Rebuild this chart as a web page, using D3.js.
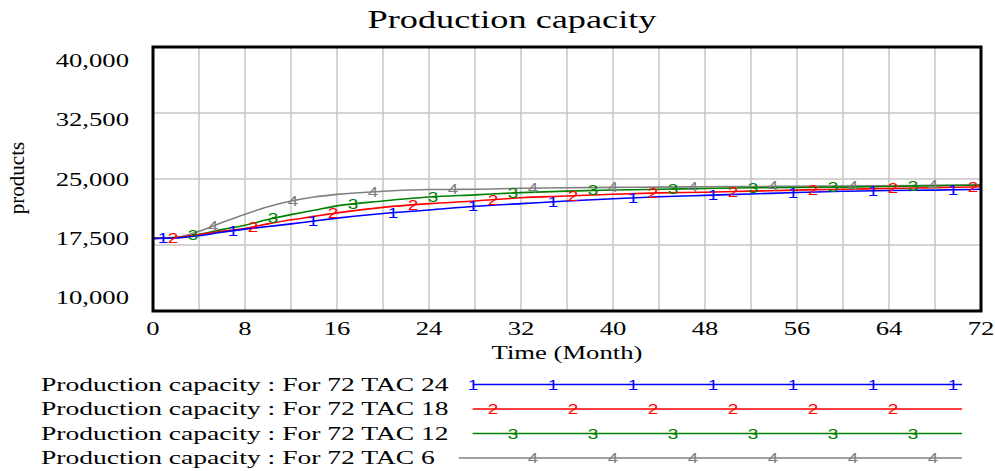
<!DOCTYPE html>
<html>
<head>
<meta charset="utf-8">
<script src="https://cdn.jsdelivr.net/npm/d3@7/dist/d3.min.js"></script>
<style>
  body { margin: 0; background: #fff; }
  svg text { font-family: "Liberation Serif", "Times New Roman", serif; fill: #000; }
  svg text.mark { font-family: "Liberation Sans", Arial, sans-serif; }
</style>
</head>
<body>
<div id="chart"></div>
<script>
//Datos
const months = [0, 2, 4, 6, 8, 10, 12, 14, 16, 20, 24, 28, 32, 36, 40, 44, 48, 52, 56, 60, 64, 68, 72];
const tac24 = [18250, 18300, 18550, 18950, 19300, 19600, 19900, 20230, 20550, 21080, 21480, 21900, 22200, 22500, 22750, 22980, 23140, 23300, 23460, 23600, 23700, 23740, 23830];
const tac18 = [18250, 18320, 18700, 19050, 19380, 19900, 20360, 20750, 21150, 21780, 22200, 22500, 22870, 23060, 23270, 23420, 23500, 23620, 23740, 23840, 23920, 24020, 24120];
const tac12 = [18250, 18350, 18700, 19250, 19750, 20400, 20950, 21450, 21950, 22500, 22950, 23200, 23450, 23620, 23750, 23830, 23920, 24000, 24040, 24080, 24150, 24230, 24320];
const tac6  = [18250, 18380, 19050, 20050, 21000, 21850, 22500, 22950, 23250, 23600, 23800, 23830, 23950, 24000, 24050, 24080, 24120, 24150, 24170, 24200, 24230, 24270, 24320];

const seriesNames = ['Production capacity : For 72 TAC 24', 'Production capacity : For 72 TAC 18', 'Production capacity : For 72 TAC 12', 'Production capacity : For 72 TAC 6'];
const seriesMarks = ['1', '2', '3', '4'];
const xTicks = [0, 8, 16, 24, 32, 40, 48, 56, 64, 72];
const yTicks = [10000, 17500, 25000, 32500, 40000];

//Colores fijos
const COLORS = ['#0000ff', '#ff0000', '#008000', '#808080'];
const GRID = '#c4c4c4';
const SX = 1.48; //el texto sale estirado en horizontal

const W = 995, H = 471;
const pLeft = 153, pRight = 981, pTop = 47, pBottom = 311;

const svg = d3.select('#chart').append('svg')
    .attr('width', W).attr('height', H);

//Escalas
const x = d3.scaleLinear().domain([0, 72]).range([pLeft, pRight]);
const y = d3.scaleLinear().domain([10000, 40000]).range([pBottom, pTop]);
const yLabel = d3.scaleLinear().domain([10000, 40000]).range([304, 67]);

function stretch(sel, sx) {
    sel.each(function() {
        const w = this.getComputedTextLength();
        d3.select(this).attr('textLength', w * sx).attr('lengthAdjust', 'spacingAndGlyphs');
    });
}

//Rejilla
svg.append('g').selectAll('line')
    .data(d3.range(4, 72, 4))
    .enter().append('line')
    .attr('x1', d => x(d)).attr('x2', d => x(d))
    .attr('y1', pTop).attr('y2', pBottom)
    .attr('stroke', GRID).attr('stroke-width', 1.5);

svg.append('g').selectAll('line')
    .data(yTicks.slice(1, -1))
    .enter().append('line')
    .attr('x1', pLeft).attr('x2', pRight)
    .attr('y1', d => y(d)).attr('y2', d => y(d))
    .attr('stroke', GRID).attr('stroke-width', 1.5);

//Líneas
const data = [tac24, tac18, tac12, tac6];
const line = d3.line()
    .x((d, i) => x(months[i]))
    .y(d => y(d))
    .curve(d3.curveMonotoneX);

function valueAt(vals, m) {
    const i = Math.min(d3.bisectRight(months, m), months.length - 1);
    const i0 = Math.max(i - 1, 0);
    if (i === i0) return vals[i];
    const t = Math.min(1, (m - months[i0]) / (months[i] - months[i0]));
    return vals[i0] + t * (vals[i] - vals[i0]);
}

const STEP = x.invert(pLeft + 80) - x.invert(pLeft); // marcadores cada 80px
const OFF = x.invert(pLeft + 20) - x.invert(pLeft);  // desfase entre series

// de la última a la primera para que la azul quede encima
[3, 2, 1, 0].forEach(function(s) {
    svg.append('path')
        .datum(data[s])
        .attr('d', line)
        .attr('fill', 'none')
        .attr('stroke', COLORS[s])
        .attr('stroke-width', 1.6);
});

[3, 2, 1, 0].forEach(function(s) {
    const ms = [];
    for (let m = s * OFF; m <= 72; m += STEP) ms.push(Math.max(m, 0.87));
    svg.append('g').selectAll('text')
        .data(ms)
        .enter().append('text')
        .attr('class', 'mark')
        .attr('x', d => x(d))
        .attr('y', d => y(valueAt(data[s], d)) + 5)
        .attr('text-anchor', 'middle')
        .attr('font-size', 14)
        .style('fill', COLORS[s])
        .text(seriesMarks[s])
        .call(stretch, 1.35);
});

//Marco
svg.append('rect')
    .attr('x', pLeft).attr('y', pTop)
    .attr('width', pRight - pLeft).attr('height', pBottom - pTop)
    .attr('fill', 'none').attr('stroke', '#000').attr('stroke-width', 3);

//Ejes
svg.append('g').selectAll('text')
    .data(yTicks)
    .enter().append('text')
    .attr('x', 129).attr('y', d => yLabel(d))
    .attr('text-anchor', 'end')
    .attr('font-size', 18)
    .text(d => d3.format(',')(d))
    .call(stretch, SX);

svg.append('g').selectAll('text')
    .data(xTicks)
    .enter().append('text')
    .attr('x', d => x(d)).attr('y', 335)
    .attr('text-anchor', 'middle')
    .attr('font-size', 18)
    .text(d => d)
    .call(stretch, SX);

svg.append('text')
    .attr('x', (pLeft + pRight) / 2).attr('y', 359)
    .attr('text-anchor', 'middle')
    .attr('font-size', 18)
    .text('Time (Month)')
    .call(stretch, SX);

svg.append('text')
    .attr('transform', 'translate(24,178) rotate(-90)')
    .attr('text-anchor', 'middle')
    .attr('font-size', 21)
    .text('products');

//Título
svg.append('text')
    .attr('x', 512).attr('y', 28)
    .attr('text-anchor', 'middle')
    .attr('font-size', 25)
    .text('Production capacity')
    .call(stretch, 1.45);

//Leyenda
const lineEnd = 962;
seriesNames.forEach(function(name, s) {
    const ty = 390.5 + s * 24.5;
    const ly = ty - 6;
    const t = svg.append('text')
        .attr('x', 41).attr('y', ty)
        .attr('font-size', 18.5)
        .text(name)
        .call(stretch, 1.49);
    const tEnd = 41 + (+t.attr('textLength'));
    const lineStart = tEnd + 24;
    svg.append('line')
        .attr('x1', lineStart).attr('x2', lineEnd)
        .attr('y1', ly).attr('y2', ly)
        .attr('stroke', COLORS[s]).attr('stroke-width', 1.6);
    const ms = [];
    for (let m = s * OFF; x(m) <= lineEnd; m += STEP) {
        if (x(m) >= lineStart) ms.push(m);
    }
    svg.append('g').selectAll('text')
        .data(ms)
        .enter().append('text')
        .attr('class', 'mark')
        .attr('x', d => x(d))
        .attr('y', ly + 5)
        .attr('text-anchor', 'middle')
        .attr('font-size', 14)
        .style('fill', COLORS[s])
        .text(seriesMarks[s])
        .call(stretch, 1.35);
});
</script>
</body>
</html>
